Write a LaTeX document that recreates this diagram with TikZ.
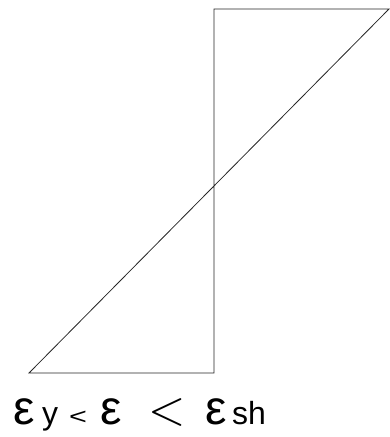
\documentclass[tikz,border=0pt]{standalone}
\usepackage{fontspec}
\usepackage{graphicx}
\setmainfont{Liberation Sans}
\begin{document}
\begin{tikzpicture}[x=1pt,y=-1pt,
  edge/.style={draw=black!85,line width=0.8pt,line join=miter},
  glyph/.style={inner sep=0pt,outer sep=0pt,anchor=base west},
  big/.style={glyph,font=\fontsize{48}{48}\selectfont},
  small/.style={glyph,font=\fontsize{32}{32}\selectfont}]
\useasboundingbox (0,0) rectangle (390,437);
\coordinate (tl) at (214,9);
\coordinate (tr) at (389,9);
\coordinate (bl) at (29,373);
\coordinate (br) at (214,373);
\draw[edge] (tl) -- (tr) -- (bl) -- (br) -- cycle;
\node[big] (e1) at (13,424) {ε};
\node[small] (y) at (42,424) {y};
\node[glyph,font=\fontsize{23}{23}\selectfont] (lt1) at (69,424) {\scalebox{1.33}[1]{<}};
\node[big] (e2) at (100,424) {ε};
\node[glyph,font=\fontsize{10}{10}\selectfont] (lt2) at (148,424) {\scalebox{4.8}{$<$}};
\node[big] (e3) at (205,424) {ε};
\node[small] (sh) at (232,424) {sh};
\end{tikzpicture}
\end{document}
